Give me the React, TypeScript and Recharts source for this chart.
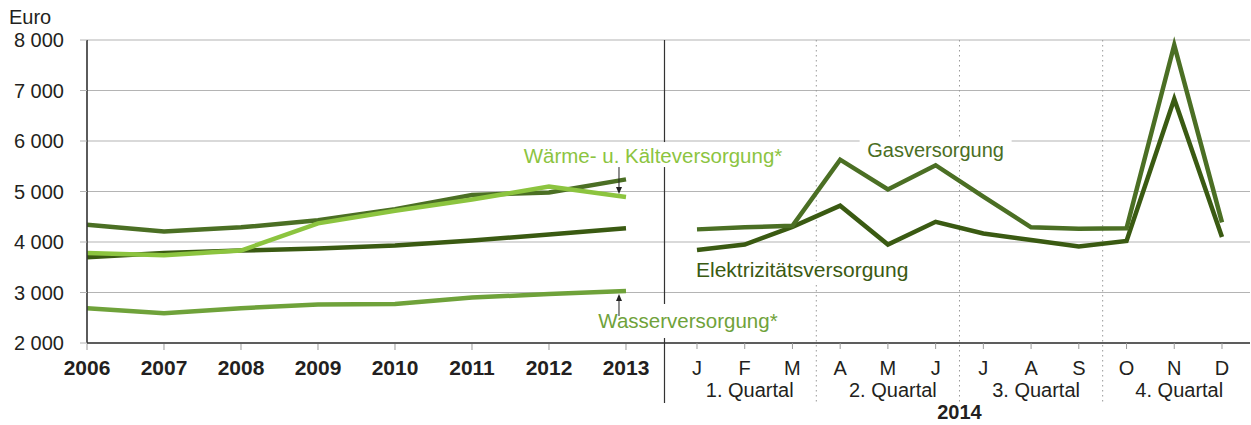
import React from 'react';
import { LineChart, Line, XAxis, YAxis, CartesianGrid, ReferenceLine, ReferenceDot } from 'recharts';

// ---------- data ----------
const years = [2006, 2007, 2008, 2009, 2010, 2011, 2012, 2013];
const gasYear = [4340, 4210, 4290, 4430, 4650, 4930, 4980, 5240];
const elecYear = [3700, 3780, 3830, 3870, 3930, 4030, 4150, 4270];
const heatYear = [3780, 3740, 3830, 4370, 4620, 4840, 5100, 4890];
const waterYear = [2690, 2590, 2690, 2760, 2770, 2900, 2970, 3030];

const months = ['J', 'F', 'M', 'A', 'M', 'J', 'J', 'A', 'S', 'O', 'N', 'D'];
const gasMonth = [4250, 4290, 4320, 5630, 5040, 5520, 4900, 4290, 4260, 4270, 7900, 4390];
const elecMonth = [3840, 3950, 4300, 4720, 3950, 4400, 4170, 4040, 3910, 4020, 6830, 4100];
const quarters = ['1. Quartal', '2. Quartal', '3. Quartal', '4. Quartal'];
const monthYear = '2014';

const yTicks = [2000, 3000, 4000, 5000, 6000, 7000, 8000];
const monthTicks = [1, 2, 3, 4, 5, 6, 7, 8, 9, 10, 11, 12];
const quarterBounds = [3.5, 6.5, 9.5];

const labelHeat = 'Wärme- u. Kälteversorgung*';
const labelWater = 'Wasserversorgung*';
const labelGas = 'Gasversorgung';
const labelElec = 'Elektrizitätsversorgung';

// ---------- styling / geometry ----------
const FONT = '"Liberation Sans", Arial, Helvetica, sans-serif';
const C = {
  gas: '#4b6f24',
  elec: '#3a5a12',
  heat: '#8cc43f',
  water: '#6fa23a',
  text: '#231f20',
  grid: '#b4b4b4',
  axis: '#333333',
  tick: '#9a9a9a',
};
const W = 1251;
const H = 425;
// plot spans x 87..1250 (1163 px); year step 77 px, month step ~47.73 px
const YEAR_DOMAIN: [number, number] = [2006, 2021.104];
const MONTH_DOMAIN: [number, number] = [-11.781, 12.587];

const yearData = years.map((year, i) => ({
  year,
  gas: gasYear[i],
  elec: elecYear[i],
  heat: heatYear[i],
  water: waterYear[i],
}));
const monthData = months.map((label, i) => ({ m: i + 1, label, gas: gasMonth[i], elec: elecMonth[i] }));

const fmtY = (v: number) => `${Math.round(v / 1000)} 000`;

const YearTick = (props: any) => {
  const { x, y, payload } = props;
  return (
    <text x={x} y={y + 23} textAnchor="middle" fill={C.text} fontFamily={FONT} fontSize={21} fontWeight="bold">
      {payload.value}
    </text>
  );
};

const MonthTick = (props: any) => {
  const { x, y, payload } = props;
  const idx = Number(payload.value) - 1;
  const q = idx % 3 === 1 ? quarters[Math.floor(idx / 3)] : null;
  return (
    <g>
      <text x={x} y={y + 24} textAnchor="middle" fill={C.text} fontFamily={FONT} fontSize={20}>
        {months[idx]}
      </text>
      {q && (
        <text x={x + 5} y={y + 46} textAnchor="middle" fill={C.text} fontFamily={FONT} fontSize={20}>
          {q}
        </text>
      )}
    </g>
  );
};

const ends = (props: any) => {
  const a = Number(props.y1);
  const b = Number(props.y2);
  return { top: Math.min(a, b), bottom: Math.max(a, b), x: Number(props.x1) };
};

const Divider = (props: any) => {
  const { top, bottom, x } = ends(props);
  return <line x1={x} y1={top} x2={x} y2={bottom + 60} stroke={C.axis} strokeWidth={1.2} />;
};

const QuarterLine = (withYear: boolean) => (props: any) => {
  const { top, bottom, x } = ends(props);
  return (
    <g>
      <line x1={x} y1={top} x2={x} y2={bottom + 60} stroke="#999" strokeWidth={1} strokeDasharray="1.5 3.5" />
      {withYear && (
        <text x={x} y={bottom + 76} textAnchor="middle" fill={C.text} fontFamily={FONT} fontSize={20} fontWeight="bold">
          {monthYear}
        </text>
      )}
    </g>
  );
};

const HeatNote = (props: any) => {
  const { cx, cy } = props;
  const ax = cx - 7;
  return (
    <g>
      <rect x={cx - 110} y={cy - 55} width={274} height={25} fill="#fff" />
      <text x={cx + 27} y={cy - 34} textAnchor="middle" fill={C.heat} fontFamily={FONT} fontSize={20.5}>
        {labelHeat}
      </text>
      <line x1={ax} y1={cy - 30} x2={ax} y2={cy - 9} stroke="#222" strokeWidth={1} />
      <path d={`M${ax - 3},${cy - 10} L${ax + 3},${cy - 10} L${ax},${cy - 3} Z`} fill="#222" />
    </g>
  );
};

const WaterNote = (props: any) => {
  const { cx, cy } = props;
  const ax = cx - 7;
  return (
    <g>
      <rect x={cx - 34} y={cy + 13} width={192} height={34} fill="#fff" />
      <text x={cx + 62} y={cy + 37} textAnchor="middle" fill={C.water} fontFamily={FONT} fontSize={20.5}>
        {labelWater}
      </text>
      <line x1={ax} y1={cy + 9} x2={ax} y2={cy + 25} stroke="#222" strokeWidth={1} />
      <path d={`M${ax - 3},${cy + 10} L${ax + 3},${cy + 10} L${ax},${cy + 3} Z`} fill="#222" />
    </g>
  );
};

const GasNote = (props: any) => {
  const { cx, cy } = props;
  return (
    <g>
      <rect x={cx - 76} y={cy - 26} width={152} height={21} fill="#fff" />
      <text x={cx} y={cy - 8} textAnchor="middle" fill={C.gas} fontFamily={FONT} fontSize={20}>
        {labelGas}
      </text>
    </g>
  );
};

const ElecNote = (props: any) => {
  const { cx, cy } = props;
  return (
    <g>
      <rect x={cx - 4} y={cy + 11} width={222} height={22} fill="#fff" />
      <text x={cx - 1} y={cy + 27} textAnchor="start" fill={C.elec} fontFamily={FONT} fontSize={21}>
        {labelElec}
      </text>
    </g>
  );
};

export default function App() {
  return (
    <div style={{ position: 'absolute', left: 0, top: 0, width: W, height: H, background: '#fff' }}>
      <div
        style={{
          position: 'absolute',
          left: 9,
          top: 6,
          fontFamily: FONT,
          fontSize: 20,
          lineHeight: '23px',
          color: C.text,
        }}
      >
        Euro
      </div>
      <LineChart width={W} height={H} margin={{ top: 40, right: 1, left: 0, bottom: 0 }}>
        <CartesianGrid xAxisId="year" vertical={false} stroke={C.grid} strokeWidth={1.2} />
        <XAxis
          xAxisId="year"
          type="number"
          dataKey="year"
          domain={YEAR_DOMAIN}
          allowDataOverflow
          ticks={years}
          interval={0}
          height={81}
          tickSize={6}
          tickLine={{ stroke: C.tick }}
          axisLine={false}
          tick={<YearTick />}
        />
        <XAxis
          xAxisId="month"
          type="number"
          dataKey="m"
          domain={MONTH_DOMAIN}
          allowDataOverflow
          ticks={monthTicks}
          interval={0}
          height={1}
          tickSize={6}
          tickLine={{ stroke: C.tick }}
          axisLine={{ stroke: C.axis, strokeWidth: 1.6 }}
          tick={<MonthTick />}
        />
        <YAxis
          type="number"
          domain={[2000, 8000]}
          ticks={yTicks}
          interval={0}
          width={87}
          tickSize={7}
          tickMargin={16}
          tickFormatter={fmtY}
          axisLine={{ stroke: C.axis, strokeWidth: 1.6 }}
          tickLine={{ stroke: C.grid }}
          tick={{ fill: C.text, fontSize: 20, fontFamily: FONT }}
        />
        <ReferenceLine xAxisId="year" x={2013.5} shape={Divider} />
        {quarterBounds.map((q, i) => (
          <ReferenceLine key={q} xAxisId="month" x={q} shape={QuarterLine(i === 1)} />
        ))}
        <Line xAxisId="year" data={yearData} dataKey="water" stroke={C.water} strokeWidth={4.5} dot={false} isAnimationActive={false} />
        <Line xAxisId="year" data={yearData} dataKey="elec" stroke={C.elec} strokeWidth={4.5} dot={false} isAnimationActive={false} />
        <Line xAxisId="year" data={yearData} dataKey="gas" stroke={C.gas} strokeWidth={4.5} dot={false} isAnimationActive={false} />
        <Line xAxisId="year" data={yearData} dataKey="heat" stroke={C.heat} strokeWidth={4.5} dot={false} isAnimationActive={false} />
        <Line xAxisId="month" data={monthData} dataKey="elec" stroke={C.elec} strokeWidth={4.5} dot={false} isAnimationActive={false} />
        <Line xAxisId="month" data={monthData} dataKey="gas" stroke={C.gas} strokeWidth={4.5} dot={false} isAnimationActive={false} />
        <ReferenceDot xAxisId="year" x={years[7]} y={heatYear[7]} shape={HeatNote} />
        <ReferenceDot xAxisId="year" x={years[7]} y={waterYear[7]} shape={WaterNote} />
        <ReferenceDot xAxisId="month" x={6} y={gasMonth[5]} shape={GasNote} />
        <ReferenceDot xAxisId="month" x={1} y={elecMonth[0]} shape={ElecNote} />
      </LineChart>
    </div>
  );
}
